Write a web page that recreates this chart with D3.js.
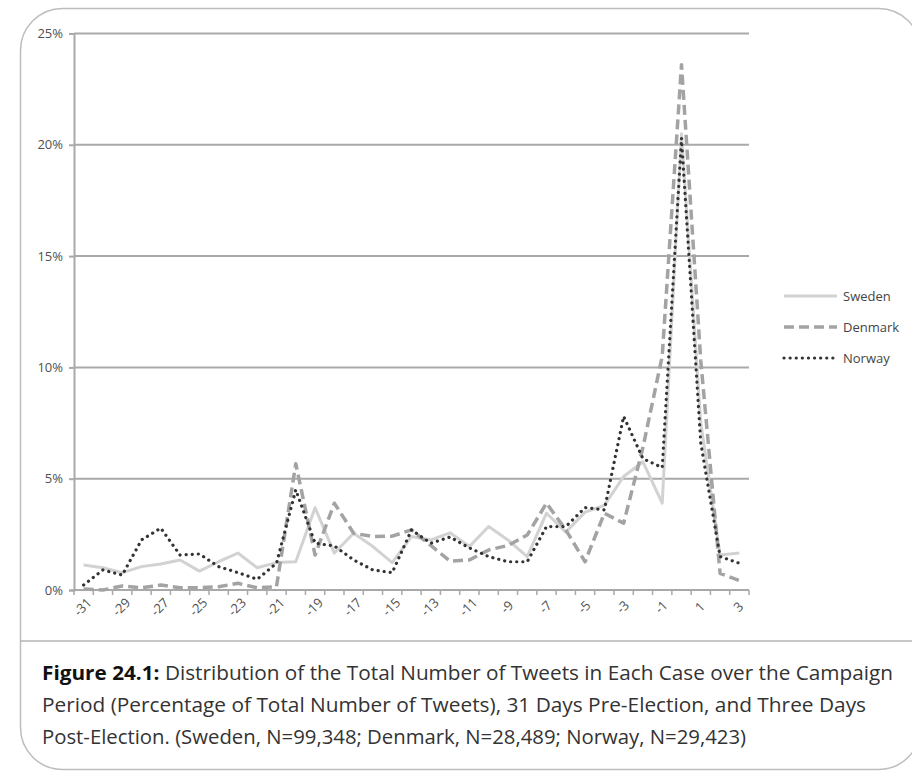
<!DOCTYPE html>
<html>
<head>
<meta charset="utf-8">
<script src="https://cdnjs.cloudflare.com/ajax/libs/d3/7.8.5/d3.min.js"></script>
<style>
  body { margin: 0; background: #fff; }
  svg { display: block; }
</style>
</head>
<body>
<div id="chart"></div>
<script>
// days relative to election day
var days = [-31, -30, -29, -28, -27, -26, -25, -24, -23, -22, -21, -20, -19, -18, -17, -16, -15, -14,
  -13, -12, -11, -10, -9, -8, -7, -6, -5, -4, -3, -2, -1, 0, 1, 2, 3];

// share of all tweets per day, %
var sweden = [1.12, 1.0, 0.78, 1.05, 1.17, 1.35, 0.85, 1.27, 1.66, 1.0, 1.23,
  1.27, 3.7, 1.66, 2.55, 1.95, 1.23, 2.4, 2.25, 2.57, 1.95, 2.85, 2.25, 1.5,
  3.45, 2.6, 3.5, 3.8, 5.1, 5.76, 3.9, 20.5, 7.5, 1.57, 1.66];
var denmark = [0.05, 0, 0.18, 0.1, 0.22, 0.1, 0.1, 0.15, 0.3, 0.1, 0.15,
  5.67, 1.57, 3.9, 2.55, 2.4, 2.42, 2.7, 2.0, 1.3, 1.35, 1.8, 2.0, 2.47,
  3.9, 2.7, 1.27, 3.45, 3.0, 6.4, 10.5, 23.6, 10.3, 0.75, 0.42];
var norway = [0.22, 0.9, 0.67, 2.25, 2.78, 1.57, 1.62, 1.05, 0.78, 0.48, 1.2,
  4.5, 2.1, 1.98, 1.35, 0.9, 0.78, 2.7, 2.1, 2.38, 1.89, 1.5, 1.27, 1.27,
  2.85, 2.85, 3.7, 3.6, 7.8, 5.9, 5.5, 20.3, 6.6, 1.5, 1.2];

var yTicks = [0, 5, 10, 15, 20, 25];
var seriesNames = ["Sweden", "Denmark", "Norway"];

var captionBold = "Figure 24.1:";
var captionLines = [
  " Distribution of the Total Number of Tweets in Each Case over the Campaign",
  "Period (Percentage of Total Number of Tweets), 31 Days Pre-Election, and Three Days",
  "Post-Election. (Sweden, N=99,348; Denmark, N=28,489; Norway, N=29,423)"
];

var styles = {
  Sweden: { color: "#d2d2d2", width: 3, dash: null, cap: "butt" },
  Denmark: { color: "#a3a3a3", width: 3.5, dash: "10,5", cap: "butt" },
  Norway: { color: "#333", width: 3.2, dash: "0.1,6", cap: "round" }
};

var W = 912, H = 777;
var svg = d3.select("#chart").append("svg")
  .attr("width", W)
  .attr("height", H);

// card frame
svg.append("rect")
  .attr("x", 20.5).attr("y", 8.5)
  .attr("width", 900).attr("height", 761)
  .attr("rx", 42).attr("ry", 42)
  .attr("fill", "none")
  .attr("stroke", "#bdbdbd")
  .attr("stroke-width", 1.5);

svg.append("line")
  .attr("x1", 20).attr("x2", W)
  .attr("y1", 641).attr("y2", 641)
  .attr("stroke", "#b5b5b5")
  .attr("stroke-width", 1.5);

var x = d3.scaleBand().domain(days).range([74, 749]);
var y = d3.scaleLinear().domain([0, 25]).range([590, 33.5]);
var cx = function (d) { return x(d) + x.bandwidth() / 2; };

var labelFont = "'Open Sans', sans-serif";

// gridlines
svg.append("g").selectAll("line")
  .data(yTicks.slice(1))
  .enter().append("line")
  .attr("x1", 74).attr("x2", 749)
  .attr("y1", function (d) { return y(d); })
  .attr("y2", function (d) { return y(d); })
  .attr("stroke", "#a9a9a9")
  .attr("stroke-width", 2);

// y axis
var yAxis = svg.append("g")
  .attr("transform", "translate(74,0)")
  .call(d3.axisLeft(y).tickValues(yTicks).tickSize(5).tickPadding(6)
    .tickFormat(function (d) { return d + "%"; }));
yAxis.attr("font-size", null).attr("font-family", null);
yAxis.select(".domain").attr("stroke", "#a9a9a9").attr("stroke-width", 2);
yAxis.selectAll(".tick line").attr("stroke", "#a9a9a9").attr("stroke-width", 2);
yAxis.selectAll("text")
  .attr("fill", "#505050")
  .style("font-family", labelFont)
  .style("font-size", "13px");

// x axis with ticks on band edges
var xg = svg.append("g").attr("transform", "translate(0,590)");
xg.append("line")
  .attr("x1", 74).attr("x2", 749)
  .attr("stroke", "#a9a9a9").attr("stroke-width", 2);
var edges = days.map(function (d) { return x(d); }).concat([749]);
xg.selectAll(".xt").data(edges).enter().append("line")
  .attr("class", "xt")
  .attr("x1", function (d) { return d; }).attr("x2", function (d) { return d; })
  .attr("y1", 0).attr("y2", 5)
  .attr("stroke", "#a9a9a9").attr("stroke-width", 1.5);
xg.selectAll("text")
  .data(days.filter(function (d, i) { return i % 2 === 0; }))
  .enter().append("text")
  .attr("transform", function (d) { return "translate(" + (cx(d) - 1) + ",17) rotate(-45)"; })
  .attr("text-anchor", "middle")
  .attr("dy", "0.35em")
  .attr("fill", "#505050")
  .style("font-family", labelFont)
  .style("font-size", "13px")
  .text(function (d) { return d; });

// lines
var seriesData = { Sweden: sweden, Denmark: denmark, Norway: norway };
var line = d3.line()
  .x(function (d) { return cx(d.day); })
  .y(function (d) { return y(d.v); });

seriesNames.forEach(function (name) {
  var s = styles[name];
  var pts = days.map(function (d, i) { return { day: d, v: seriesData[name][i] }; });
  svg.append("path")
    .datum(pts)
    .attr("d", line)
    .attr("fill", "none")
    .attr("stroke", s.color)
    .attr("stroke-width", s.width)
    .attr("stroke-dasharray", s.dash)
    .attr("stroke-linecap", s.cap)
    .attr("stroke-linejoin", "round");
});

// legend
var legend = svg.append("g").attr("transform", "translate(784,296)");
seriesNames.forEach(function (name, i) {
  var s = styles[name];
  var g = legend.append("g").attr("transform", "translate(0," + (i * 31) + ")");
  g.append("line")
    .attr("x1", 0).attr("x2", 53)
    .attr("stroke", s.color)
    .attr("stroke-width", s.width)
    .attr("stroke-dasharray", s.dash)
    .attr("stroke-linecap", s.cap);
  g.append("text")
    .attr("x", 59).attr("dy", "0.35em")
    .attr("fill", "#444")
    .style("font-family", labelFont)
    .style("font-size", "13px")
    .text(name);
});

// caption
var cap = svg.append("g")
  .style("font-family", "'Open Sans', sans-serif")
  .style("font-size", "20px")
  .attr("fill", "#333");
var widths = [851, 824, 704];
var t0 = cap.append("text").attr("x", 42).attr("y", 680)
  .attr("textLength", widths[0]).attr("lengthAdjust", "spacingAndGlyphs");
t0.append("tspan").attr("font-weight", "bold").attr("fill", "#111").text(captionBold);
t0.append("tspan").text(captionLines[0]);
captionLines.slice(1).forEach(function (txt, i) {
  cap.append("text")
    .attr("x", 42).attr("y", 712 + i * 32)
    .attr("textLength", widths[i + 1]).attr("lengthAdjust", "spacingAndGlyphs")
    .text(txt);
});
</script>
</body>
</html>
